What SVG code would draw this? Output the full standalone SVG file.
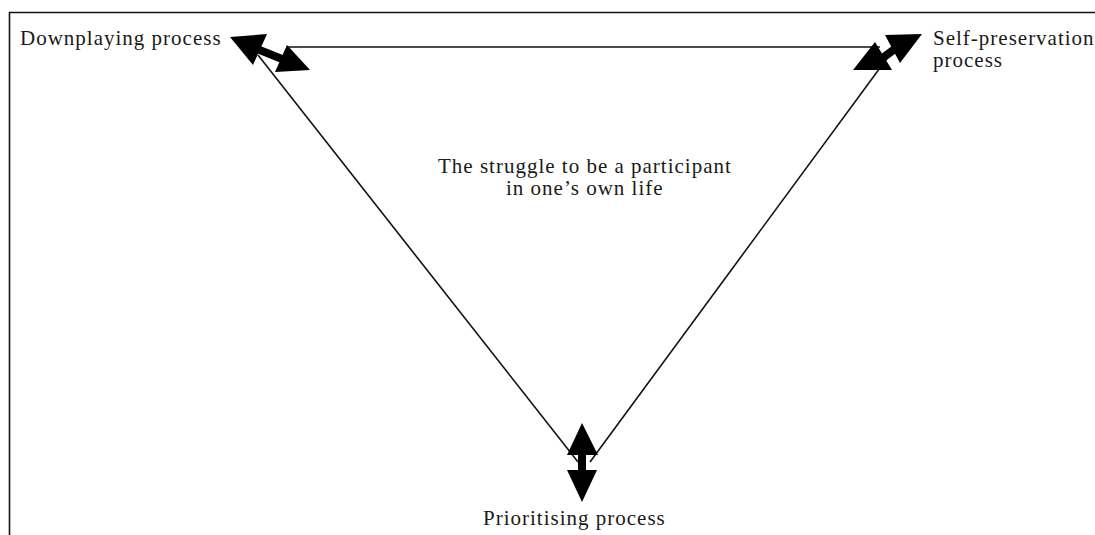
<svg xmlns="http://www.w3.org/2000/svg" width="1095" height="535" viewBox="0 0 1095 535">
<style>
.t{font-family:"Liberation Serif","Times New Roman",serif;font-size:21px;letter-spacing:1px;fill:#1a1a1a}
.ln{stroke:#111;stroke-width:1.6;fill:none}
.hd{fill:#000}
.sh{stroke:#000;stroke-width:8;fill:none}
</style>
<rect width="1095" height="535" fill="#fff"/>
<g id="frame"><path class="ln" d="M9.5,535 V12.5 H1095" stroke-width="2.2" stroke="#222"/></g>
<g id="connectors">
<line class="ln" x1="287" y1="47" x2="880" y2="47"/>
<line class="ln" x1="258" y1="55" x2="578" y2="462"/>
<line class="ln" x1="888" y1="57" x2="590" y2="462"/>
<line class="sh" x1="252" y1="47" x2="287" y2="61"/>
<polygon class="hd" points="230,37 267,34 253,65"/>
<polygon class="hd" points="287,45 310,70 275,72"/>
<line class="sh" x1="880" y1="60" x2="900" y2="45"/>
<polygon class="hd" points="885,35 922,34 900,63"/>
<polygon class="hd" points="875,42 892,70 853,70"/>
<line class="sh" x1="582" y1="452" x2="582" y2="472"/>
<polygon class="hd" points="582,423 598,455 567,455"/>
<polygon class="hd" points="567,470 597,470 582,502"/>
</g>
<g id="downplaying"><text class="t" x="20" y="45">Downplaying process</text></g>
<g id="self-preservation"><text class="t" x="933" y="45">Self-preservation</text><text class="t" x="933" y="67">process</text></g>
<g id="center"><text class="t" x="438" y="173">The struggle to be a participant</text><text class="t" x="506" y="195">in one’s own life</text></g>
<g id="prioritising"><text class="t" x="483" y="525">Prioritising process</text></g>
</svg>
